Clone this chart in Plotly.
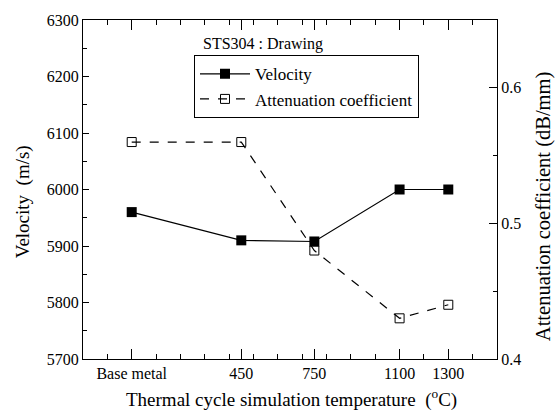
import plotly.graph_objects as go

temps = [0, 450, 750, 1100, 1300]
tick_labels = ["Base metal", "450", "750", "1100", "1300"]
velocity = [5960, 5910, 5908, 6000, 6000]
attenuation = [0.560, 0.560, 0.480, 0.430, 0.440]

FONT = "Liberation Serif"
L, R, T, B = 83, 63, 13, 53
PW, PH = 560 - L - R, 412 - T - B


def px(xp):
    return (xp - L) / PW


def py(yp):
    return (412 - B - yp) / PH


fig = go.Figure()
fig.add_trace(go.Scatter(
    x=temps, y=velocity, name="Velocity", mode="lines+markers",
    line=dict(color="black", width=1.2),
    marker=dict(symbol="square", size=10, color="black"),
    yaxis="y"))
fig.add_trace(go.Scatter(
    x=temps, y=attenuation, name="Attenuation coefficient", mode="lines+markers",
    line=dict(color="black", width=1.2, dash="dash"),
    marker=dict(symbol="square-open", size=9, color="black", line=dict(width=1)),
    yaxis="y2"))

fig.update_layout(
    width=560, height=412,
    margin=dict(l=L, r=R, t=T, b=B),
    paper_bgcolor="white", plot_bgcolor="white",
    font=dict(family=FONT, color="black", size=16),
    showlegend=True,
    legend=dict(
        x=px(194), y=py(49), xanchor="left", yanchor="top",
        bordercolor="black", borderwidth=1, bgcolor="white",
        font=dict(family=FONT, size=17),
        tracegroupgap=0, itemwidth=50,
    ),
    xaxis=dict(
        range=[-200, 1500], tickmode="array", tickvals=temps, ticktext=tick_labels,
        ticks="inside", ticklen=10, tickwidth=1, tickcolor="black",
        showline=True, linecolor="black", linewidth=1, mirror="ticks",
        showgrid=False, zeroline=False,
        minor=dict(tickmode="linear", tick0=0, dtick=100, ticks="inside",
                   ticklen=5, tickcolor="black", showgrid=False),
        tickfont=dict(size=16),
    ),
    yaxis=dict(
        range=[5700, 6300], dtick=100, tick0=5700,
        ticks="inside", ticklen=6, tickcolor="black",
        showline=True, linecolor="black", linewidth=1,
        showgrid=False, zeroline=False,
        minor=dict(dtick=50, ticks="inside", ticklen=4, tickcolor="black", showgrid=False),
        tickfont=dict(size=16),
    ),
    yaxis2=dict(
        range=[0.4, 0.65], overlaying="y", side="right",
        tickmode="array", tickvals=[0.4, 0.5, 0.6], ticktext=["0.4", "0.5", "0.6"],
        ticks="inside", ticklen=8, tickcolor="black",
        showline=True, linecolor="black", linewidth=1,
        showgrid=False, zeroline=False,
        minor=dict(tickmode="linear", tick0=0.4, dtick=0.05, ticks="inside",
                   ticklen=4, tickcolor="black", showgrid=False),
        tickfont=dict(size=16),
    ),
    annotations=[
        dict(text="STS304 : Drawing", x=px(201), y=py(38), xref="paper", yref="paper",
             xanchor="left", yanchor="middle", showarrow=False, font=dict(size=16)),
        dict(text="Thermal cycle simulation temperature  (<sup>o</sup>C)",
             x=px(291), y=py(399), xref="paper", yref="paper",
             xanchor="center", yanchor="middle", showarrow=False, font=dict(size=19)),
        dict(text="Velocity  (m/s)", x=px(23), y=py(199), xref="paper", yref="paper",
             xanchor="center", yanchor="middle", textangle=-90, showarrow=False,
             font=dict(size=19)),
        dict(text="Attenuation coefficient (dB/mm)", x=px(543), y=py(204),
             xref="paper", yref="paper", xanchor="center", yanchor="middle",
             textangle=-90, showarrow=False, font=dict(size=20.5)),
    ],
)

fig.write_html("out.html")
